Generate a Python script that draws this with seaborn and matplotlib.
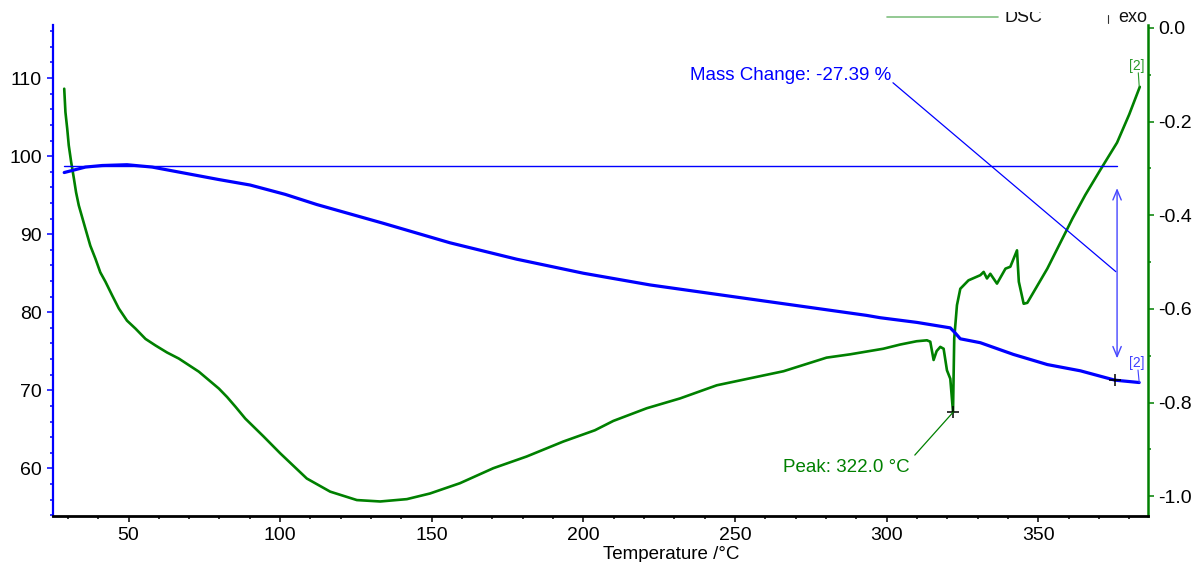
import matplotlib
matplotlib.use('Agg')
import matplotlib.pyplot as plt
from matplotlib.ticker import MultipleLocator
from matplotlib.lines import Line2D
from matplotlib.patches import Rectangle
import pandas as pd
import seaborn as sns

# TG curve (mass %, left axis)
tg_temp = [28.8, 35.8, 41.3, 49.5, 57.8, 68.8, 79.8, 90.1, 101.7, 112.1, 134.0,
           156.0, 178.0, 200.0, 222.0, 249.4, 271.4, 293.4, 297.9, 310.0, 321.0,
           322.5, 324.3, 330.9, 341.8, 353.0, 363.9, 375.3, 383.3]
tg_mass = [97.9, 98.6, 98.8, 98.9, 98.6, 97.8, 97.0, 96.3, 95.1, 93.8, 91.4,
           88.9, 86.8, 85.0, 83.5, 82.0, 80.8, 79.6, 79.3, 78.7, 78.0,
           77.4, 76.6, 76.1, 74.6, 73.3, 72.5, 71.3, 71.0]

# DSC curve (mW/mg, right axis)
dsc_temp = [28.8, 29.2, 29.8, 30.3, 31.1, 32.0, 32.7, 33.6, 34.7, 35.8, 37.4,
            39.1, 40.7, 42.4, 44.6, 46.8, 49.5, 52.3, 55.6, 58.9, 62.7, 66.6,
            69.9, 73.2, 76.5, 79.8, 82.5, 85.3, 88.5, 94.5, 100.0, 108.8, 116.5,
            125.3, 133.0, 141.8, 149.4, 159.3, 170.3, 181.3, 193.4, 203.8, 209.9,
            220.9, 231.9, 244.0, 266.0, 280.2, 287.9, 298.9, 304.5, 309.9, 313.3,
            314.4, 315.5, 316.5, 317.7, 318.8, 319.9, 321.0, 321.9, 322.3, 323.2,
            324.3, 327.0, 330.9, 332.0, 333.1, 334.2, 336.4, 339.2, 340.8, 343.0,
            343.6, 345.2, 346.4, 353.0, 359.6, 361.3, 365.5, 370.5, 376.0, 380.0,
            383.5]
dsc_signal = [-0.130, -0.180, -0.216, -0.251, -0.287, -0.322, -0.351, -0.379, -0.404,
              -0.429, -0.465, -0.493, -0.522, -0.542, -0.571, -0.599, -0.625, -0.642,
              -0.664, -0.678, -0.693, -0.706, -0.720, -0.734, -0.752, -0.770, -0.788,
              -0.809, -0.834, -0.872, -0.908, -0.962, -0.990, -1.008, -1.011, -1.006,
              -0.994, -0.972, -0.940, -0.915, -0.883, -0.859, -0.839, -0.812, -0.791,
              -0.763, -0.733, -0.704, -0.697, -0.685, -0.676, -0.669, -0.667, -0.670,
              -0.709, -0.690, -0.681, -0.685, -0.731, -0.749, -0.820, -0.663, -0.592,
              -0.557, -0.539, -0.528, -0.521, -0.535, -0.525, -0.546, -0.514, -0.510,
              -0.475, -0.542, -0.589, -0.587, -0.514, -0.429, -0.407, -0.357, -0.303,
              -0.245, -0.185, -0.126]

mass_change_text = 'Mass Change: -27.39 %'
peak_text = 'Peak: 322.0 °C'
peak_t, peak_v = 322.0, -0.820
mass_level = 98.8
mass_end_t, mass_end_v = 375.3, 71.3

BLUE = '#0000ff'
GREEN = '#008000'

sns.set_theme(style='white')
plt.rcParams['font.family'] = ['Liberation Sans', 'DejaVu Sans']

W, H = 1195, 562
fig = plt.figure(figsize=(W / 100, H / 100), dpi=100)
ax = fig.add_axes([53 / W, 1 - 516 / H, (1148 - 53) / W, (516 - 25) / H])
ax2 = ax.twinx()
ax.set_zorder(ax2.get_zorder() + 1)
ax.patch.set_visible(False)

tg = pd.DataFrame({'temp': tg_temp, 'mass': tg_mass})
dsc = pd.DataFrame({'temp': dsc_temp, 'dsc': dsc_signal})

sns.lineplot(data=dsc, x='temp', y='dsc', ax=ax2, color=GREEN, lw=1.9,
             sort=False, estimator=None)
sns.lineplot(data=tg, x='temp', y='mass', ax=ax, color=BLUE, lw=2.3,
             sort=False, estimator=None)

ax.set_xlim(25.1, 386.2)
ax.set_ylim(53.9, 116.8)
ax2.set_ylim(-1.042, 0.006)

# axes styling
for s in ['top', 'right']:
    ax.spines[s].set_visible(False)
for s in ['top', 'left', 'bottom']:
    ax2.spines[s].set_visible(False)
ax.spines['left'].set_color(BLUE)
ax.spines['left'].set_linewidth(1.6)
ax.spines['bottom'].set_color('black')
ax.spines['bottom'].set_linewidth(2)
ax2.spines['right'].set_color(GREEN)
ax2.spines['right'].set_linewidth(1.8)

ax.xaxis.set_major_locator(MultipleLocator(50))
ax.xaxis.set_minor_locator(MultipleLocator(10))
ax.yaxis.set_major_locator(MultipleLocator(10))
ax.yaxis.set_minor_locator(MultipleLocator(2))
ax2.yaxis.set_major_locator(MultipleLocator(0.2))
ax2.yaxis.set_minor_locator(MultipleLocator(0.1))
ax2.yaxis.set_major_formatter(plt.FuncFormatter(lambda v, p: f'{v:.1f}'))

ax.tick_params(axis='x', which='both', direction='out', bottom=True, color='black',
               labelsize=14, pad=4, labelcolor='black')
ax.tick_params(axis='x', which='major', length=4, width=1.1)
ax.tick_params(axis='x', which='minor', length=2.5, width=1.1)
ax.tick_params(axis='y', which='both', direction='out', left=True, color=BLUE,
               labelsize=14, pad=4, labelcolor='black')
ax.tick_params(axis='y', which='major', length=4, width=1.1)
ax.tick_params(axis='y', which='minor', length=2.5, width=1.1)
ax2.tick_params(axis='y', which='both', direction='out', right=True, color=GREEN,
                labelsize=14, pad=3.5, labelcolor='black')
ax2.tick_params(axis='y', which='major', length=4, width=1.1)
ax2.tick_params(axis='y', which='minor', length=2.5, width=1.1)

ax.set_ylabel('')
ax2.set_ylabel('')
ax.set_xlabel('Temperature /°C', fontsize=13.5, color='black')
ax.xaxis.set_label_coords((671 - 53) / 1095, -0.062)
ax.grid(False)
ax2.grid(False)

# mass change annotation
ax.plot([tg_temp[0], 376.0], [mass_level, mass_level], color=BLUE, lw=1)
ax.annotate('', xy=(376.0, 74.1), xytext=(376.0, 95.9),
            arrowprops=dict(arrowstyle='<->,head_length=0.6,head_width=0.25',
                            color='#4646ff', lw=1, mutation_scale=12,
                            shrinkA=0, shrinkB=0))
ax.plot([375.6, 302.1], [85.2, 109.4], color=BLUE, lw=0.9)
ax.text(301.4, 109.8, mass_change_text, color=BLUE, fontsize=13.5,
        ha='right', va='baseline')
ax.plot([mass_end_t], [mass_end_v], marker='+', color='black', ms=9, mew=1.1)
ax.text(382.4, 73.0, '[2]', color='#4040ff', fontsize=10, ha='center', va='baseline')
ax.plot([382.9, 383.3], [72.6, 71.0], color='#4040ff', lw=0.8)

# DSC peak annotation
ax2.plot([peak_t], [peak_v], marker='+', color='black', ms=9, mew=1.1)
ax2.plot([peak_t, 309.3], [peak_v, -0.912], color=GREEN, lw=0.9)
ax2.text(307.7, -0.948, peak_text, color=GREEN, fontsize=13.5,
         ha='right', va='baseline')
ax2.text(382.4, -0.090, '[2]', color='#2a9a2a', fontsize=10, ha='center', va='baseline')
ax2.plot([383.0, 383.3], [-0.096, -0.125], color='#2a9a2a', lw=0.8)

# partial legend strip at the top edge
fig.add_artist(Line2D([887 / W, 998 / W], [1 - 17 / H] * 2, color='#80c080', lw=1.2))
fig.text(1005 / W, 1 - 22 / H, 'DSC', fontsize=13, color='#111111', va='baseline')
fig.add_artist(Line2D([1108 / W, 1108 / W], [1 - 15 / H, 1 - 23 / H], color='#333333', lw=0.8))
fig.text(1118 / W, 1 - 22 / H, 'exo', fontsize=13, color='#111111', va='baseline')
fig.add_artist(Rectangle((980 / W, 1 - 11.5 / H), 100 / W, 11.5 / H, facecolor='white',
                         edgecolor='none', zorder=10))

fig.savefig('out.png', dpi=100)
plt.close(fig)
